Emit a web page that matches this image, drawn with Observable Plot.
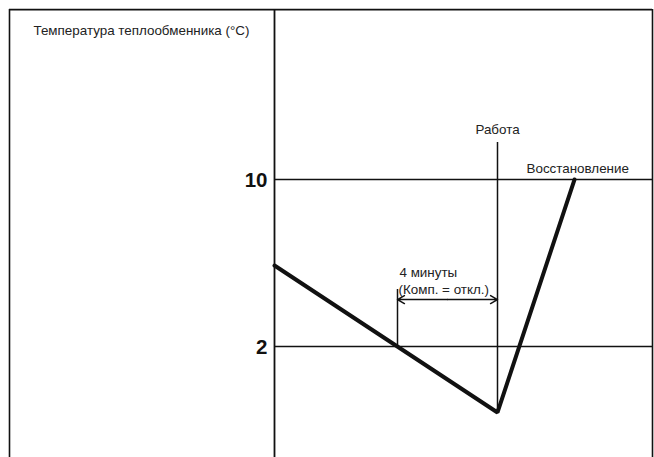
<!DOCTYPE html>
<html>
<head>
<meta charset="utf-8">
<script src="https://cdn.jsdelivr.net/npm/d3@7"></script>
<script src="https://cdn.jsdelivr.net/npm/@observablehq/plot@0.6"></script>
<style>
  html, body { margin: 0; padding: 0; background: #fff; }
  #chart svg { display: block; }
</style>
</head>
<body>
<div id="chart"></div>
<script>
// Time in minutes (0 = moment the temperature falls below 2 °C), temperature in °C
const time = [-4.92, 4.0, 7.08];
const temperature = [5.88, -1.16, 10.0];
const yTicks = [2, 10];
const yTickLabels = ["2", "10"];
const axisTime = -4.92;       // left edge of the plotting area
const frameLeft = -15.52;
const frameRight = 10.2;
const frameTop = 18.14;
const bottom = -3.32;
const operationTime = 4.0;    // "Работа"
const offStart = 0.0;         // compressor off starts
const offMinutes = 4;         // 4 minutes
const title = "Температура теплообменника (°C)";
const labelOperation = "Работа";
const labelRecovery = "Восстановление";
const labelMinutes = "4 минуты";
const labelComp = "(Комп. = откл.)";

const data = time.map((t, i) => ({t, temp: temperature[i]}));
const ticks = yTicks.map((v, i) => ({v, label: yTickLabels[i]}));

const ink = "#111";
const textInk = "#222";
const fs = 13.4;
const font = "'Liberation Sans', Arial, Helvetica, sans-serif";

const chart = Plot.plot({
  width: 654,
  height: 457,
  margin: 0,
  x: {domain: [-15.88, 10.28], axis: null},
  y: {domain: [-3.317, 18.575], axis: null},
  style: {fontFamily: font, background: "#fff"},
  marks: [
    // outer frame
    Plot.ruleX([frameLeft], {y1: frameTop, y2: bottom, stroke: ink, strokeWidth: 1.6}),
    Plot.ruleX([frameRight], {y1: frameTop, y2: bottom, stroke: ink, strokeWidth: 1.6}),
    Plot.ruleY([frameTop], {x1: frameLeft, x2: frameRight, stroke: ink, strokeWidth: 1.6}),
    // vertical axis of the chart
    Plot.ruleX([axisTime], {y1: frameTop, y2: bottom, stroke: ink, strokeWidth: 1.8}),
    // horizontal reference lines at 2 and 10
    Plot.ruleY(ticks, {y: "v", x1: axisTime, x2: frameRight, stroke: ink, strokeWidth: 1.3}),
    // tick labels
    Plot.text(ticks, {x: axisTime, y: "v", text: "label", dx: -7, dy: 1, textAnchor: "end",
      fontSize: 20.5, fontWeight: "bold", fill: ink}),
    // operation line
    Plot.ruleX([operationTime], {y1: 11.77, y2: temperature[1], stroke: ink, strokeWidth: 1.5}),
    // compressor-off start tick
    Plot.ruleX([offStart], {y1: 4.73, y2: yTicks[0], stroke: ink, strokeWidth: 1.5}),
    // double arrow for the 4 minutes
    Plot.arrow([{a: offStart + offMinutes / 2}], {x1: "a", x2: offStart, y1: 4.25, y2: 4.25,
      stroke: ink, strokeWidth: 1.5, headLength: 8}),
    Plot.arrow([{a: offStart + offMinutes / 2}], {x1: "a", x2: offStart + offMinutes, y1: 4.25, y2: 4.25,
      stroke: ink, strokeWidth: 1.5, headLength: 8}),
    // temperature curve
    Plot.line(data, {x: "t", y: "temp", stroke: ink, strokeWidth: 4, strokeLinejoin: "miter"}),
    // texts
    Plot.text([title], {x: -14.56, y: 17.14, text: d => d, textAnchor: "start", fontSize: fs, fill: textInk}),
    Plot.text([labelOperation], {x: operationTime, y: 12.40, text: d => d, textAnchor: "middle", fontSize: fs, fill: textInk}),
    Plot.text([labelRecovery], {x: 5.16, y: 10.53, text: d => d, textAnchor: "start", fontSize: fs, fill: textInk}),
    Plot.text([labelMinutes], {x: 0.08, y: 5.545, text: d => d, textAnchor: "start", fontSize: fs, fill: textInk}),
    Plot.text([labelComp], {x: 0.04, y: 4.73, text: d => d, textAnchor: "start", fontSize: fs, fill: textInk})
  ]
});
document.getElementById("chart").appendChild(chart);
</script>
</body>
</html>
